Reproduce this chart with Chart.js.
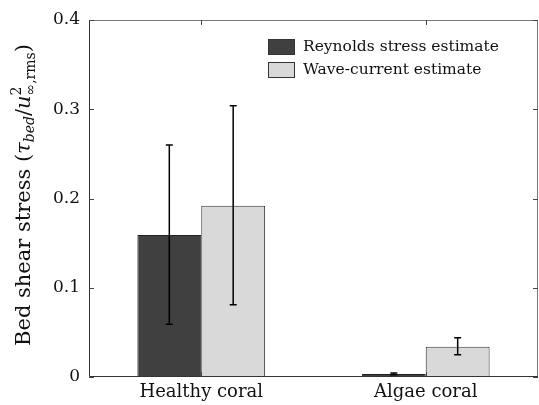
<!DOCTYPE html>
<html>
<head>
<meta charset="UTF-8">
<title>Bed shear stress</title>
<script src="https://cdn.jsdelivr.net/npm/chart.js"></script>
<style>
  html, body { margin: 0; padding: 0; background: #fff; }
  #wrap { width: 539px; height: 405px; position: relative; }
</style>
</head>
<body>
<div id="wrap"><canvas id="c"></canvas></div>
<script>
  // data
  const categories = ['Healthy coral', 'Algae coral'];
  const seriesNames = ['Reynolds stress estimate', 'Wave-current estimate'];
  const reynolds = [0.159, 0.0035];
  const waveCurrent = [0.192, 0.034];
  const reynoldsLow = [0.059, 0.0025];
  const reynoldsHigh = [0.260, 0.0045];
  const waveLow = [0.081, 0.025];
  const waveHigh = [0.304, 0.044];
  const yTicks = [0, 0.1, 0.2, 0.3, 0.4];
  const yTickLabels = ['0', '0.1', '0.2', '0.3', '0.4'];

  const SERIF = '"DejaVu Serif", "Liberation Serif", serif';

  // error bars, box, inward ticks, legend and y title
  const decor = {
    id: 'decor',
    afterDatasetsDraw(chart) {
      const ctx = chart.ctx;
      const ys = chart.scales.y;
      const area = chart.chartArea;
      const ranges = [[reynoldsLow, reynoldsHigh], [waveLow, waveHigh]];

      ctx.save();
      ctx.strokeStyle = '#000';
      ctx.lineWidth = 1.5;
      ranges.forEach((r, di) => {
        chart.getDatasetMeta(di).data.forEach((bar, i) => {
          const x = bar.x;
          const y1 = ys.getPixelForValue(r[0][i]);
          const y2 = ys.getPixelForValue(r[1][i]);
          ctx.beginPath();
          ctx.moveTo(x, y1); ctx.lineTo(x, y2);
          ctx.moveTo(x - 3.5, y1); ctx.lineTo(x + 3.5, y1);
          ctx.moveTo(x - 3.5, y2); ctx.lineTo(x + 3.5, y2);
          ctx.stroke();
        });
      });

      // axes box
      ctx.lineWidth = 1;
      ctx.strokeStyle = '#777';
      ctx.beginPath();
      ctx.moveTo(area.left, area.top + 0.5);
      ctx.lineTo(area.right - 0.5, area.top + 0.5);
      ctx.lineTo(area.right - 0.5, area.bottom);
      ctx.stroke();
      ctx.strokeStyle = '#333';
      ctx.beginPath();
      ctx.moveTo(area.left + 0.5, area.top);
      ctx.lineTo(area.left + 0.5, area.bottom - 0.5);
      ctx.lineTo(area.right, area.bottom - 0.5);
      ctx.stroke();

      // inward tick marks
      ctx.strokeStyle = '#444';
      ctx.beginPath();
      yTicks.forEach(v => {
        const y = Math.round(ys.getPixelForValue(v)) + 0.5;
        ctx.moveTo(area.left, y); ctx.lineTo(area.left + 5, y);
        ctx.moveTo(area.right, y); ctx.lineTo(area.right - 5, y);
      });
      categories.forEach((c, i) => {
        const x = Math.round(chart.scales.x.getPixelForValue(i)) + 0.5;
        ctx.moveTo(x, area.bottom); ctx.lineTo(x, area.bottom - 5);
        ctx.moveTo(x, area.top); ctx.lineTo(x, area.top + 5);
      });
      ctx.stroke();

      // legend
      ctx.font = '15.5px ' + SERIF;
      ctx.textBaseline = 'middle';
      ctx.textAlign = 'left';
      chart.data.datasets.forEach((ds, i) => {
        const top = 39 + i * 23;
        ctx.fillStyle = ds.backgroundColor;
        ctx.fillRect(268, top, 27, 16);
        ctx.strokeStyle = '#333';
        ctx.lineWidth = 1;
        ctx.strokeRect(268.5, top + 0.5, 26, 15);
        ctx.fillStyle = '#111';
        ctx.fillText(ds.label, 303, top + 8);
      });

      // y axis title with math
      const base = 21, small = 14;
      const parts = [
        { t: 'Bed shear stress (', f: base + 'px ' + SERIF, dy: 0 },
        { t: 'τ', f: 'italic ' + base + 'px ' + SERIF, dy: 0 },
        { t: 'bed', f: 'italic ' + small + 'px ' + SERIF, dy: 5 },
        { t: '/', f: base + 'px ' + SERIF, dy: 0 },
        { t: 'u', f: 'italic ' + base + 'px ' + SERIF, dy: 0 },
        { t: '2', f: small + 'px ' + SERIF, dy: -8, stack: true },
        { t: '∞,rms', f: small + 'px ' + SERIF, dy: 6 },
        { t: ')', f: base + 'px ' + SERIF, dy: 0 }
      ];
      let total = 0;
      const widths = parts.map(p => { ctx.font = p.f; return ctx.measureText(p.t).width; });
      parts.forEach((p, i) => { if (!p.stack) total += widths[i]; });
      ctx.translate(25, 195);
      ctx.rotate(-Math.PI / 2);
      ctx.fillStyle = '#111';
      ctx.textBaseline = 'middle';
      let x = -total / 2;
      parts.forEach((p, i) => {
        ctx.font = p.f;
        ctx.fillText(p.t, x, p.dy);
        if (!p.stack) x += widths[i];
      });
      ctx.restore();
    }
  };

  new Chart(document.getElementById('c'), {
    type: 'bar',
    data: {
      labels: categories,
      datasets: [
        { label: seriesNames[0], data: reynolds, backgroundColor: '#404040', borderColor: '#222', borderWidth: 1 },
        { label: seriesNames[1], data: waveCurrent, backgroundColor: '#d9d9d9', borderColor: '#333', borderWidth: 1 }
      ]
    },
    options: {
      responsive: true,
      maintainAspectRatio: false,
      animation: false,
      layout: { padding: { left: 0, top: 20, right: 1, bottom: 0 } },
      plugins: { legend: { display: false }, tooltip: { enabled: false } },
      datasets: { bar: { categoryPercentage: 0.569, barPercentage: 1.0 } },
      scales: {
        x: {
          grid: { display: false, drawTicks: false },
          border: { display: false },
          ticks: { color: '#111', font: { family: SERIF, size: 18 }, padding: 5 },
          afterFit: s => { s.height = 28; }
        },
        y: {
          min: 0, max: 0.4,
          grid: { display: false, drawTicks: false },
          border: { display: false },
          afterBuildTicks: s => { s.ticks = yTicks.map(v => ({ value: v })); },
          ticks: {
            color: '#111',
            font: { family: SERIF, size: 17 },
            padding: 9,
            callback: (v, i) => yTickLabels[i]
          },
          afterFit: s => { s.width = 89; }
        }
      }
    },
    plugins: [decor]
  });
</script>
</body>
</html>
